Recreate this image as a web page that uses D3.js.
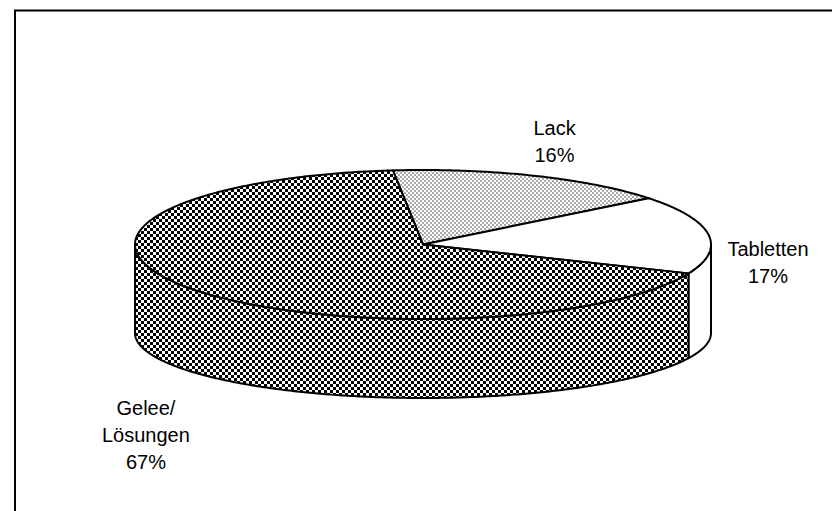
<!DOCTYPE html>
<html>
<head>
<meta charset="utf-8">
<script src="https://cdn.jsdelivr.net/npm/d3@7"></script>
<style>
  body { margin: 0; background: #fff; }
  svg { display: block; }
</style>
</head>
<body>
<script>
// chart data
var categories = ["Lack", "Tabletten", "Gelee/Lösungen"];
var values = [16, 17, 67];
var labelNames = [["Lack"], ["Tabletten"], ["Gelee/", "Lösungen"]];
var fills = ["url(#dots)", "#fff", "url(#checker)"];

// layout
var svgWidth = 832, svgHeight = 511;
var cx = 423, cy = 244.5, rx = 288, ry = 74.5;
// bottom rim is seen in perspective: lower centre, flatter ellipse
var cyBottom = 333, ryBottom = 65;
var startAngle = -6 * Math.PI / 180;
var lineHeight = 27;
var labelNudge = [[-2.4, -6.7], [2.6, 38.1], [0.4, 139.8]];

var svg = d3.select("body")
  .append("svg")
  .attr("width", svgWidth)
  .attr("height", svgHeight);

var defs = svg.append("defs");

var checker = defs.append("pattern")
  .attr("id", "checker")
  .attr("patternUnits", "userSpaceOnUse")
  .attr("width", 6).attr("height", 6);
checker.append("rect").attr("width", 6).attr("height", 6).attr("fill", "#fff");
checker.append("rect").attr("width", 3).attr("height", 3).attr("fill", "#000");
checker.append("rect").attr("x", 3).attr("y", 3).attr("width", 3).attr("height", 3).attr("fill", "#000");

var dots = defs.append("pattern")
  .attr("id", "dots")
  .attr("patternUnits", "userSpaceOnUse")
  .attr("width", 4).attr("height", 4);
dots.append("rect").attr("width", 4).attr("height", 4).attr("fill", "#fff");
dots.append("rect").attr("width", 2).attr("height", 2).attr("fill", "#aaa");
dots.append("rect").attr("x", 2).attr("y", 2).attr("width", 2).attr("height", 2).attr("fill", "#aaa");

// frame (right and bottom edges fall outside the window)
svg.append("rect")
  .attr("x", 15).attr("y", 10.5)
  .attr("width", 1000).attr("height", 1000)
  .attr("fill", "none")
  .attr("stroke", "#000")
  .attr("stroke-width", 2);

var pie = d3.pie()
  .sort(null)
  .startAngle(startAngle)
  .endAngle(startAngle + 2 * Math.PI)
  .value(function (d) { return d; });

var arcs = pie(values);

function topPt(a) {
  return [cx + rx * Math.sin(a), cy - ry * Math.cos(a)];
}
function bottomPt(a) {
  return [cx + rx * Math.sin(a), cyBottom - ryBottom * Math.cos(a)];
}

function arcPoints(a0, a1, f) {
  var n = Math.max(2, Math.ceil(Math.abs(a1 - a0) / 0.01));
  var pts = [];
  for (var i = 0; i <= n; i++) {
    pts.push(f(a0 + (a1 - a0) * i / n));
  }
  return pts;
}

var line = d3.line();

// side walls (front half only: angles between 90 and 270 degrees)
var chart = svg.append("g");
arcs.forEach(function (d, i) {
  var s = Math.max(d.startAngle, Math.PI / 2);
  var e = Math.min(d.endAngle, 3 * Math.PI / 2);
  if (e <= s) return;
  var pts = arcPoints(s, e, topPt).concat(arcPoints(e, s, bottomPt));
  chart.append("path")
    .attr("d", line(pts) + "Z")
    .attr("fill", fills[i])
    .attr("stroke", "#000")
    .attr("stroke-width", 2)
    .attr("stroke-linejoin", "round");
});

// top faces
arcs.forEach(function (d, i) {
  var pts = [[cx, cy]].concat(arcPoints(d.startAngle, d.endAngle, topPt));
  chart.append("path")
    .attr("d", line(pts) + "Z")
    .attr("fill", fills[i])
    .attr("stroke", "#000")
    .attr("stroke-width", 2)
    .attr("stroke-linejoin", "round");
});

// labels
var total = d3.sum(values);
var pct = d3.format(".0%");
arcs.forEach(function (d, i) {
  var m = (d.startAngle + d.endAngle) / 2;
  var x = cx + rx * 1.2 * Math.sin(m) + labelNudge[i][0];
  var y = cy - ry * 1.3 * Math.cos(m) + labelNudge[i][1];
  var lines = labelNames[i].concat([pct(values[i] / total)]);
  var t = svg.append("text")
    .attr("text-anchor", "middle")
    .style("font-family", "'Liberation Sans', Arial, sans-serif")
    .style("font-size", "20px")
    .attr("fill", "#000");
  lines.forEach(function (s, k) {
    t.append("tspan")
      .attr("x", x)
      .attr("y", y + (k - (lines.length - 1) / 2) * lineHeight)
      .text(s);
  });
});
</script>
</body>
</html>
